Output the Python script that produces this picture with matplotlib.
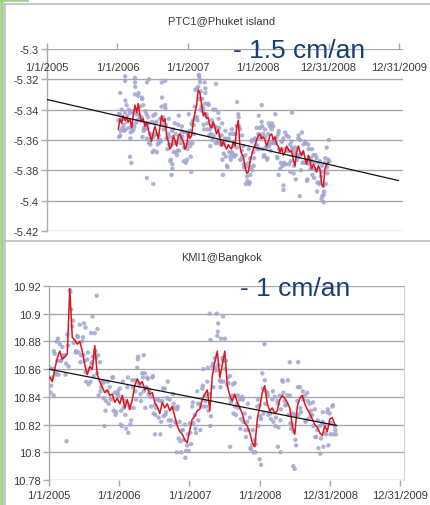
import matplotlib
matplotlib.use("Agg")
import matplotlib.pyplot as plt
import numpy as np
import pandas as pd
from matplotlib.lines import Line2D

plt.rcParams['font.family'] = ['Liberation Sans', 'DejaVu Sans']

EPOCH = pd.Timestamp('2005-01-01')

# ---------------- data ----------------
tick_dates = ['2005-01-01', '2006-01-01', '2007-01-01', '2008-01-01', '2008-12-31', '2009-12-31']
tick_labels = ['1/1/2005', '1/1/2006', '1/1/2007', '1/1/2008', '12/31/2008', '12/31/2009']

# PTC1 @ Phuket island
ptc_title = 'PTC1@Phuket island'
ptc_rate = '- 1.5 cm/an'
ptc_yticks = [-5.3, -5.32, -5.34, -5.36, -5.38, -5.4, -5.42]
ptc_ytick_labels = ['-5.3', '-5.32', '-5.34', '-5.36', '-5.38', '-5.4', '-5.42']
ptc_span = ('2006-01-06', '2008-12-30')
ptc_smooth = [
    -5.353, -5.346, -5.349, -5.344, -5.347, -5.345, -5.348, -5.346, -5.352, -5.344,
    -5.337, -5.342, -5.336, -5.344, -5.348, -5.346, -5.351, -5.348, -5.353, -5.357,
    -5.361, -5.355, -5.351, -5.355, -5.359, -5.351, -5.344, -5.348, -5.346, -5.357,
    -5.361, -5.366, -5.364, -5.357, -5.360, -5.364, -5.357, -5.356, -5.359, -5.361,
    -5.366, -5.364, -5.355, -5.359, -5.357, -5.348, -5.342, -5.337, -5.327, -5.329,
    -5.337, -5.344, -5.342, -5.346, -5.345, -5.351, -5.352, -5.348, -5.352, -5.356,
    -5.353, -5.359, -5.364, -5.361, -5.364, -5.366, -5.363, -5.365, -5.366, -5.361,
    -5.364, -5.352, -5.347, -5.364, -5.369, -5.371, -5.377, -5.382, -5.381, -5.375,
    -5.370, -5.366, -5.364, -5.360, -5.357, -5.356, -5.359, -5.358, -5.360, -5.364,
    -5.361, -5.357, -5.356, -5.360, -5.358, -5.363, -5.364, -5.368, -5.365, -5.370,
    -5.368, -5.364, -5.366, -5.368, -5.367, -5.373, -5.377, -5.368, -5.364, -5.368,
    -5.370, -5.367, -5.372, -5.376, -5.370, -5.373, -5.379, -5.376, -5.378, -5.381,
    -5.377, -5.379, -5.389, -5.391, -5.379, -5.376, -5.375]
ptc_daily_a = [
    -5.347, -5.343, -5.340, -5.346, -5.342, -5.337, -5.347, -5.342, -5.341, -5.342,
    -5.330, -5.343, -5.331, -5.338, -5.345, -5.337, -5.353, -5.343, -5.345, -5.356,
    -5.357, -5.344, -5.349, -5.348, -5.360, -5.346, -5.338, -5.345, -5.337, -5.359,
    -5.356, -5.358, -5.363, -5.353, -5.349, -5.362, -5.350, -5.357, -5.354, -5.355,
    -5.363, -5.355, -5.357, -5.354, -5.349, -5.347, -5.338, -5.326, -5.325, -5.322,
    -5.338, -5.339, -5.336, -5.343, -5.336, -5.353, -5.347, -5.340, -5.351, -5.352,
    -5.342, -5.357, -5.357, -5.362, -5.359, -5.360, -5.360, -5.356, -5.368, -5.356,
    -5.356, -5.351, -5.343, -5.353, -5.367, -5.364, -5.378, -5.377, -5.375, -5.372,
    -5.361, -5.368, -5.359, -5.352, -5.356, -5.352, -5.348, -5.356, -5.353, -5.365,
    -5.356, -5.351, -5.353, -5.351, -5.360, -5.358, -5.356, -5.367, -5.361, -5.359,
    -5.366, -5.357, -5.367, -5.363, -5.361, -5.370, -5.368, -5.370, -5.359, -5.360,
    -5.369, -5.363, -5.361, -5.374, -5.363, -5.374, -5.374, -5.370, -5.375, -5.372,
    -5.379, -5.374, -5.381, -5.390, -5.375, -5.365, -5.373]
ptc_daily_b = [
    -5.358, -5.354, -5.352, -5.354, -5.353, -5.344, -5.352, -5.355, -5.354, -5.351,
    -5.349, -5.347, -5.344, -5.347, -5.358, -5.352, -5.350, -5.352, -5.362, -5.359,
    -5.368, -5.367, -5.356, -5.363, -5.362, -5.361, -5.350, -5.347, -5.350, -5.366,
    -5.363, -5.373, -5.376, -5.362, -5.368, -5.367, -5.367, -5.362, -5.358, -5.365,
    -5.375, -5.366, -5.362, -5.371, -5.362, -5.356, -5.345, -5.347, -5.333, -5.328,
    -5.341, -5.353, -5.344, -5.353, -5.357, -5.356, -5.360, -5.351, -5.362, -5.362,
    -5.352, -5.363, -5.373, -5.363, -5.371, -5.378, -5.368, -5.373, -5.369, -5.371,
    -5.370, -5.351, -5.351, -5.373, -5.371, -5.378, -5.389, -5.387, -5.389, -5.378,
    -5.380, -5.372, -5.363, -5.364, -5.366, -5.358, -5.366, -5.370, -5.365, -5.372,
    -5.364, -5.367, -5.362, -5.359, -5.362, -5.372, -5.366, -5.375, -5.377, -5.375,
    -5.376, -5.367, -5.376, -5.374, -5.366, -5.377, -5.386, -5.370, -5.371, -5.380,
    -5.375, -5.375, -5.375, -5.386, -5.376, -5.372, -5.383, -5.385, -5.380, -5.388,
    -5.389, -5.384, -5.397, -5.394, -5.389, -5.382, -5.374]
ptc_daily_c = [
    -5.343, -5.357, -5.345, -5.350, -5.334, -5.348, -5.340, -5.359, -5.350, -5.353,
    -5.325, -5.347, -5.329, -5.346, -5.333, -5.354, -5.341, -5.359, -5.349, -5.363,
    -5.348, -5.358, -5.343, -5.368, -5.357, -5.360, -5.332, -5.353, -5.339, -5.359,
    -5.346, -5.374, -5.354, -5.368, -5.356, -5.370, -5.344, -5.359, -5.351, -5.374,
    -5.364, -5.373, -5.343, -5.364, -5.350, -5.350, -5.327, -5.345, -5.317, -5.340,
    -5.333, -5.350, -5.329, -5.349, -5.337, -5.364, -5.350, -5.357, -5.340, -5.361,
    -5.346, -5.361, -5.349, -5.369, -5.354, -5.377, -5.359, -5.371, -5.353, -5.364,
    -5.356, -5.365, -5.345, -5.373, -5.357, -5.376, -5.370, -5.384, -5.366, -5.383,
    -5.360, -5.377, -5.360, -5.366, -5.344, -5.359, -5.351, -5.371, -5.358, -5.373,
    -5.349, -5.362, -5.349, -5.362, -5.343, -5.371, -5.354, -5.379, -5.361, -5.376,
    -5.355, -5.367, -5.358, -5.381, -5.365, -5.382, -5.365, -5.373, -5.357, -5.370,
    -5.355, -5.375, -5.362, -5.387, -5.366, -5.379, -5.366, -5.379, -5.370, -5.394,
    -5.375, -5.388, -5.377, -5.396, -5.372, -5.378, -5.360]
ptc_out_yr = [1.11, 1.11, 1.25, 1.25, 1.42, 1.45, 1.63, 1.68, 2.16, 2.17, 2.24, 2.40,
              1.04, 2.70, 3.48, 1.18, 1.51, 1.77, 1.78, 2.05, 2.50, 2.88, 3.29, 3.36,
              3.36, 3.59, 3.90, 3.93, 1.42, 1.20, 2.25, 1.35, 3.05]
ptc_out_val = [-5.318, -5.321, -5.319, -5.322, -5.322, -5.320, -5.322, -5.321, -5.318,
               -5.320, -5.322, -5.323, -5.329, -5.335, -5.342, -5.371, -5.389, -5.383,
               -5.379, -5.381, -5.383, -5.388, -5.383, -5.390, -5.393, -5.397, -5.399,
               -5.401, -5.385, -5.375, -5.326, -5.332, -5.337]
ptc_trend_yr = [0.0, 4.99]
ptc_trend_val = [-5.3333, -5.3867]

# KMI1 @ Bangkok
kmi_title = 'KMI1@Bangkok'
kmi_rate = '- 1 cm/an'
kmi_yticks = [10.92, 10.9, 10.88, 10.86, 10.84, 10.82, 10.8, 10.78]
kmi_ytick_labels = ['10.92', '10.9', '10.88', '10.86', '10.84', '10.82', '10.8', '10.78']
kmi_span = ('2005-01-06', '2009-01-26')
kmi_smooth = [
    10.854, 10.851, 10.860, 10.868, 10.873, 10.867, 10.869, 10.871, 10.918, 10.883,
    10.881, 10.878, 10.880, 10.873, 10.863, 10.856, 10.862, 10.860, 10.877, 10.856,
    10.851, 10.847, 10.843, 10.845, 10.841, 10.842, 10.836, 10.839, 10.835, 10.841,
    10.832, 10.838, 10.831, 10.838, 10.848, 10.853, 10.849, 10.851, 10.845, 10.847,
    10.842, 10.843, 10.836, 10.833, 10.828, 10.836, 10.832, 10.835, 10.830, 10.833,
    10.826, 10.819, 10.815, 10.813, 10.809, 10.807, 10.816, 10.824, 10.826, 10.830,
    10.831, 10.838, 10.842, 10.845, 10.830, 10.855, 10.865, 10.873, 10.854, 10.863,
    10.873, 10.848, 10.841, 10.837, 10.842, 10.836, 10.832, 10.828, 10.821, 10.819,
    10.814, 10.807, 10.804, 10.824, 10.833, 10.843, 10.848, 10.835, 10.830, 10.832,
    10.828, 10.830, 10.838, 10.841, 10.839, 10.836, 10.832, 10.819, 10.813, 10.833,
    10.839, 10.841, 10.835, 10.831, 10.828, 10.824, 10.820, 10.818, 10.814, 10.812,
    10.819, 10.815, 10.824, 10.825, 10.820]
kmi_daily_a = [
    10.861, 10.854, 10.871, 10.866, 10.878, 10.876, 10.870, 10.885, 10.917, 10.891,
    10.880, 10.884, 10.892, 10.880, 10.866, 10.867, 10.860, 10.865, 10.886, 10.857,
    10.865, 10.851, 10.851, 10.844, 10.847, 10.854, 10.843, 10.842, 10.846, 10.839,
    10.837, 10.847, 10.832, 10.852, 10.852, 10.861, 10.848, 10.857, 10.857, 10.854,
    10.845, 10.854, 10.834, 10.838, 10.837, 10.837, 10.846, 10.839, 10.838, 10.832,
    10.832, 10.831, 10.822, 10.816, 10.820, 10.805, 10.821, 10.833, 10.827, 10.844,
    10.835, 10.846, 10.841, 10.851, 10.842, 10.862, 10.868, 10.884, 10.852, 10.868,
    10.882, 10.849, 10.855, 10.841, 10.850, 10.835, 10.838, 10.840, 10.828, 10.822,
    10.825, 10.805, 10.809, 10.833, 10.834, 10.857, 10.852, 10.843, 10.829, 10.838,
    10.840, 10.837, 10.841, 10.852, 10.837, 10.841, 10.841, 10.820, 10.827, 10.837,
    10.847, 10.840, 10.841, 10.843, 10.835, 10.827, 10.831, 10.816, 10.819, 10.821,
    10.820, 10.829, 10.828, 10.833, 10.819]
kmi_daily_b = [
    10.848, 10.841, 10.857, 10.856, 10.866, 10.869, 10.864, 10.862, 10.903, 10.879,
    10.873, 10.872, 10.870, 10.870, 10.851, 10.849, 10.864, 10.855, 10.868, 10.841,
    10.847, 10.839, 10.837, 10.835, 10.838, 10.830, 10.829, 10.841, 10.830, 10.832,
    10.817, 10.834, 10.823, 10.832, 10.838, 10.850, 10.837, 10.844, 10.847, 10.842,
    10.833, 10.828, 10.832, 10.825, 10.822, 10.826, 10.829, 10.823, 10.823, 10.835,
    10.821, 10.810, 10.800, 10.809, 10.801, 10.801, 10.806, 10.821, 10.814, 10.823,
    10.833, 10.833, 10.833, 10.830, 10.826, 10.847, 10.859, 10.863, 10.851, 10.851,
    10.866, 10.850, 10.836, 10.828, 10.827, 10.832, 10.824, 10.822, 10.811, 10.816,
    10.802, 10.800, 10.806, 10.819, 10.824, 10.828, 10.844, 10.827, 10.824, 10.822,
    10.825, 10.818, 10.831, 10.843, 10.834, 10.827, 10.817, 10.815, 10.805, 10.827,
    10.829, 10.838, 10.823, 10.824, 10.830, 10.819, 10.811, 10.803, 10.810, 10.804,
    10.813, 10.805, 10.821, 10.813, 10.813]
kmi_daily_c = [
    10.843, 10.860, 10.856, 10.882, 10.866, 10.870, 10.856, 10.877, 10.916, 10.895,
    10.872, 10.883, 10.865, 10.883, 10.858, 10.872, 10.851, 10.869, 10.873, 10.870,
    10.844, 10.850, 10.830, 10.851, 10.839, 10.854, 10.827, 10.844, 10.820, 10.851,
    10.827, 10.854, 10.820, 10.847, 10.844, 10.867, 10.842, 10.854, 10.832, 10.853,
    10.840, 10.855, 10.827, 10.838, 10.813, 10.846, 10.827, 10.851, 10.819, 10.842,
    10.822, 10.833, 10.808, 10.816, 10.796, 10.813, 10.814, 10.836, 10.817, 10.835,
    10.816, 10.848, 10.837, 10.861, 10.819, 10.864, 10.861, 10.887, 10.847, 10.866,
    10.860, 10.854, 10.839, 10.849, 10.833, 10.841, 10.817, 10.838, 10.816, 10.835,
    10.803, 10.816, 10.800, 10.838, 10.826, 10.846, 10.835, 10.841, 10.828, 10.844,
    10.819, 10.835, 10.823, 10.851, 10.834, 10.852, 10.821, 10.828, 10.809, 10.847,
    10.832, 10.844, 10.822, 10.837, 10.826, 10.836, 10.811, 10.823, 10.799, 10.822,
    10.814, 10.831, 10.813, 10.834, 10.816]
kmi_out_yr = [0.25, 0.68, 0.62, 0.69, 0.60, 0.79, 1.13, 1.51, 1.82, 2.29, 2.39, 2.48,
              2.41, 2.30, 2.45, 3.07, 3.00, 3.02, 3.48, 3.50, 3.43, 3.55, 3.26, 3.30,
              2.58, 1.04, 0.11, 3.90, 1.27, 1.35, 2.20, 0.07, 0.50, 0.52]
kmi_out_val = [10.808, 10.913, 10.898, 10.889, 10.886, 10.819, 10.814, 10.813, 10.800,
               10.900, 10.900, 10.898, 10.893, 10.881, 10.882, 10.878, 10.795, 10.791,
               10.790, 10.788, 10.865, 10.865, 10.804, 10.800, 10.804, 10.819, 10.880,
               10.829, 10.869, 10.870, 10.860, 10.873, 10.893, 10.890]
kmi_trend_yr = [0.0, 4.10]
kmi_trend_val = [10.860, 10.8193]

# ---------------- styling ----------------
GRID = '#a9a9a9'
TXT = '#3a3a3a'
DOT = '#9fa5d0'
RED = '#e3121b'
BLUE = '#173f78'
YEAR = 365.0


def days(dates):
    return np.asarray((pd.DatetimeIndex(dates) - EPOCH).days, dtype=float)


tick_x = days(tick_dates)


def draw_panel(ax, span, smooth, daily, out_yr, out_val, trend_yr, trend_val,
               yticks, ylabels, top_axis):
    n = len(smooth)
    t_main = pd.date_range(span[0], span[1], periods=n)
    quarter = (t_main[1] - t_main[0]) / 4
    xs = days(t_main)
    for k, series in enumerate(daily):
        ax.scatter(days(t_main + quarter * (2 * k % 3)), series, s=10, color=DOT,
                   edgecolors='none', alpha=0.85, zorder=2)
    ax.scatter(np.array(out_yr) * YEAR, out_val, s=10, color=DOT, edgecolors='none',
               alpha=0.85, zorder=2)
    ax.plot(xs, smooth, color=RED, lw=1.1, zorder=3)
    ax.plot(np.array(trend_yr) * YEAR, trend_val, color='#111111', lw=0.9, zorder=4)

    ax.set_xlim(0, 5.057 * YEAR)
    ax.set_ylim(min(yticks), max(yticks))
    ax.set_yticks(yticks)
    ax.set_yticklabels(ylabels)
    for y in yticks:
        ax.axhline(y, color=GRID, lw=1.0, zorder=1)
    for s in ax.spines.values():
        s.set_visible(False)
    ax.spines['left'].set_visible(True)
    ax.spines['left'].set_color(GRID)
    ax.spines['left'].set_linewidth(1.0)
    ax.tick_params(axis='y', length=4, width=1.0, color=GRID, labelsize=8,
                   labelcolor=TXT, pad=2)
    ax.set_xticks(tick_x)
    if top_axis:
        ax.tick_params(axis='x', top=True, bottom=False, labeltop=False,
                       labelbottom=False, direction='out', length=4, width=1.0,
                       color=GRID)
        for x, lab in zip(tick_x, tick_labels):
            ax.text(x, 0.902, lab, transform=ax.get_xaxis_transform(),
                    ha='center', va='center', fontsize=8, color=TXT, zorder=5)
    else:
        ax.spines['right'].set_visible(True)
        ax.spines['right'].set_color('#d0d0d0')
        ax.tick_params(axis='x', top=False, bottom=True, direction='out', length=4,
                       width=1.0, color=GRID, labelsize=8, labelcolor=TXT, pad=3)
        ax.set_xticklabels(tick_labels)


fig = plt.figure(figsize=(4.31, 5.06), dpi=100)
W, H = 431.0, 506.0


def box(l, t, r, b):
    return [l / W, 1 - b / H, (r - l) / W, (b - t) / H]


ax1 = fig.add_axes(box(47, 50, 403, 232))
draw_panel(ax1, ptc_span, ptc_smooth, [ptc_daily_a, ptc_daily_b, ptc_daily_c],
           ptc_out_yr, ptc_out_val, ptc_trend_yr, ptc_trend_val,
           ptc_yticks, ptc_ytick_labels, True)

ax2 = fig.add_axes(box(49, 287, 404, 481))
draw_panel(ax2, kmi_span, kmi_smooth, [kmi_daily_a, kmi_daily_b, kmi_daily_c],
           kmi_out_yr, kmi_out_val, kmi_trend_yr, kmi_trend_val,
           kmi_yticks, kmi_ytick_labels, False)

# panel titles and rate annotations
fig.text(222 / W, 1 - 21 / H, ptc_title, ha='center', va='center', fontsize=8, color=TXT)
fig.text(222 / W, 1 - 258 / H, kmi_title, ha='center', va='center', fontsize=8, color=TXT)
fig.text(233 / W, 1 - 58 / H, ptc_rate, ha='left', va='baseline', fontsize=19,
         color=BLUE, zorder=6)
fig.text(240 / W, 1 - 296 / H, kmi_rate, ha='left', va='baseline', fontsize=19,
         color=BLUE, zorder=6)

# chart frames and the slide's green edge
frame = '#b8b8b8'
for (x0, y0, x1, y1) in [(5, 4.5, 431, 4.5), (5, 4.5, 5, 506), (5, 241.5, 431, 241.5)]:
    fig.add_artist(Line2D([x0 / W, x1 / W], [1 - y0 / H, 1 - y1 / H], color=frame, lw=1.1))
green = '#a3cf8c'
fig.add_artist(Line2D([2.5 / W, 2.5 / W], [0, 1], color=green, lw=2.6))
fig.add_artist(Line2D([0, 27 / W], [1 - 1.2 / H, 1 - 1.2 / H], color=green, lw=2.0))

fig.savefig('out.png', dpi=100)
